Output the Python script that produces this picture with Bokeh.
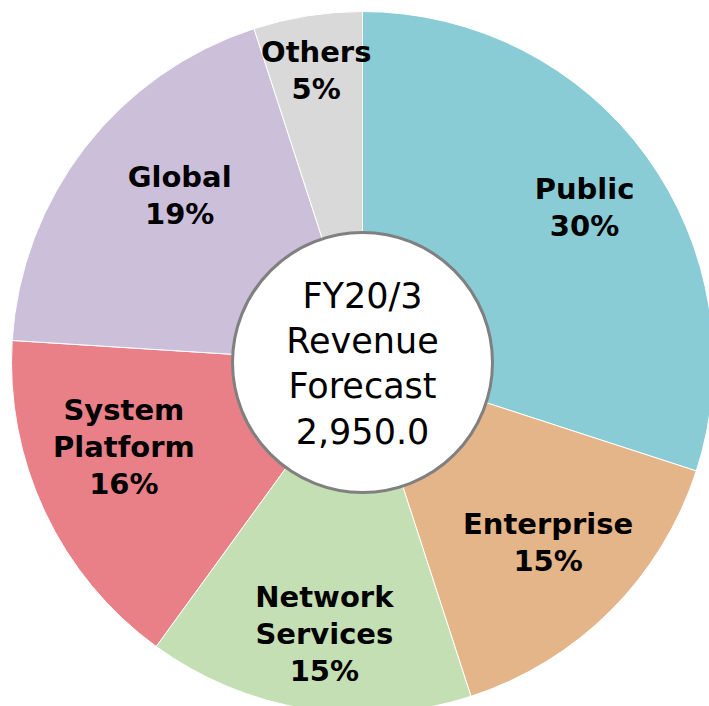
import math
from bokeh.plotting import figure
from bokeh.models import Range1d
from bokeh.core.properties import value
from bokeh.embed import file_html
from bokeh.resources import INLINE

# ---- data ----
categories = ["Public", "Enterprise", "Network\nServices", "System\nPlatform", "Global", "Others"]
shares = [30, 15, 15, 16, 19, 5]
colors = ["#89CCD6", "#E4B588", "#C4DFB3", "#E98088", "#CCBFDA", "#D9D9D9"]
center_lines = ["FY20/3", "Revenue", "Forecast", "2,950.0"]

# ---- style ----
R = 351
label_r = [271, 258, 274, 253, 248, 296]
label_dang = [1, -1, -1, 5.8, 4.7, 0]
label_fs = 29
label_lh = 37
center_fs = 35
center_lh = 45

W, H = 709, 706
cx, cy = 362, 362  # canvas position of pie centre

p = figure(width=W, height=H, output_backend="svg", toolbar_location=None,
           x_range=Range1d(-cx, W - cx), y_range=Range1d(-(H - cy), cy),
           min_border=0)
p.axis.visible = False
p.grid.visible = False
p.outline_line_color = None
p.background_fill_color = "white"
p.border_fill_color = "white"

total = sum(shares)
cum = 0.0
starts, ends, mids = [], [], []
for s in shares:
    a0 = cum / total
    cum += s
    a1 = cum / total
    starts.append(math.pi / 2 - 2 * math.pi * a0)
    ends.append(math.pi / 2 - 2 * math.pi * a1)
    mids.append(360 * (a0 + a1) / 2)

p.wedge(x=0, y=0, radius=R, start_angle=starts, end_angle=ends, direction="clock",
        fill_color=colors, line_color="white", line_width=1)

p.circle(x=0, y=0, radius=130, fill_color="white", line_color="#808080", line_width=3)

# centre text
n = len(center_lines)
for i, t in enumerate(center_lines):
    mid_y = ((n - 1) / 2 - i) * center_lh
    p.text(x=[0], y=[mid_y - 0.02 * center_fs], text=[t], text_align="center",
           text_baseline="alphabetic", text_font=value("DejaVu Sans"),
           text_font_size=f"{center_fs}px", text_color="black")

# slice labels
for k, cat in enumerate(categories):
    th = math.radians(mids[k] + label_dang[k])
    lx = label_r[k] * math.sin(th)
    ly = label_r[k] * math.cos(th)
    lines = cat.split("\n") + [f"{shares[k]}%"]
    m = len(lines)
    for i, t in enumerate(lines):
        mid_y = ly + ((m - 1) / 2 - i) * label_lh
        p.text(x=[lx], y=[mid_y - 0.02 * label_fs], text=[t], text_align="center",
               text_baseline="alphabetic", text_font=value("DejaVu Sans"),
               text_font_style="bold", text_font_size=f"{label_fs}px", text_color="black")

open("out.html", "w").write(file_html(p, INLINE))
